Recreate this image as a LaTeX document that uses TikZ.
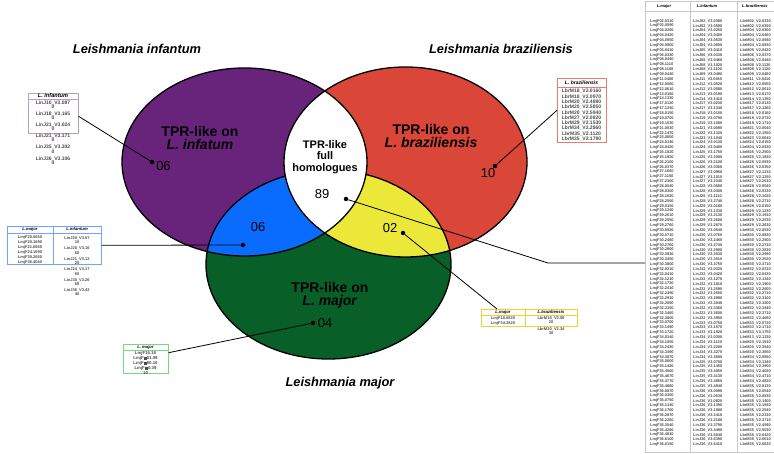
\documentclass[tikz,border=0pt]{standalone}
\usepackage{fontspec}
\setmainfont{Liberation Sans}
\usetikzlibrary{positioning}

\definecolor{infcol}{RGB}{104,36,122}
\definecolor{bracol}{RGB}{218,70,56}
\definecolor{majcol}{RGB}{8,96,40}
\definecolor{infmaj}{RGB}{10,108,255}
\definecolor{bramaj}{RGB}{236,232,58}
\definecolor{tabgray}{RGB}{200,200,200}

% Venn ellipses (pixel-like units, y downwards)
\newcommand{\infell}{(244.5,162) ellipse [x radius=122.5pt, y radius=94pt]}
\newcommand{\braell}{(405.5,162) ellipse [x radius=121.5pt, y radius=95pt]}
\newcommand{\majell}{(328.5,264.5) ellipse [x radius=122.5pt, y radius=94.5pt]}

\begin{document}
\begin{tikzpicture}[x=1pt, y=-1pt,
    outline/.style={draw=black, line width=1.3pt},
    species/.style={font=\fontsize{12.8}{14}\selectfont\bfseries\itshape},
    region/.style={align=center, font=\fontsize{14}{13}\selectfont\bfseries},
    count/.style={font=\fontsize{13}{15}\selectfont},
    pin/.style={circle, fill=black, inner sep=0pt, minimum size=4.5pt},
    leader/.style={draw=black, line width=0.8pt},
    box/.style={draw, line width=0.6pt, inner sep=0pt, anchor=north west},
    idhead/.style={inner sep=0pt, font=\fontsize{4.2}{5}\selectfont\bfseries\itshape},
    idlist/.style={align=center, inner sep=0pt, anchor=north, text=black!70,
      font=\fontsize{4}{4.4}\selectfont\bfseries},
    idrow/.style={inner sep=0pt, anchor=west, text=black!70,
      font=\fontsize{3.9}{4}\selectfont\bfseries}
  ]
  \useasboundingbox[fill=white] (0,0) rectangle (774,454);

  % filled sets
  \fill[infcol] \infell;
  \fill[bracol] \braell;
  \fill[majcol] \majell;
  \begin{scope}
    \clip \infell;
    \fill[infmaj] \majell;
  \end{scope}
  \begin{scope}
    \clip \braell;
    \fill[bramaj] \majell;
  \end{scope}
  \path[outline] \majell;
  % white core shared by all
  \begin{scope}
    \clip \infell;
    \fill[white] \braell;
  \end{scope}
  \path[outline] \infell;
  \path[outline] \braell;

  % species titles
  \node[species] (tinf) at (137,49) {Leishmania infantum};
  \node[species] (tbra) at (501,49) {Leishmania braziliensis};
  \node[species] (tmaj) at (340,383) {Leishmania major};

  % region labels
  \node[region] (rinf) at (200,137.5) {TPR-like on\\\textit{L. infatum}};
  \node[region] (rbra) at (431,136) {TPR-like on\\\textit{L. braziliensis}};
  \node[region] (rmaj) at (330,295.5) {TPR-like on\\\textit{L. major}};
  \node[region, font=\fontsize{11}{11.5}\selectfont\bfseries] (rall) at (325,157) {TPR-like\\full\\homologues};

  % counts and their pins
  \node[count] (ninf) at (163.5,166) {06};
  \node[count] (nbra) at (488,173) {10};
  \node[count] (nim) at (258,227) {06};
  \node[count] (nbm) at (390,228) {02};
  \node[count] (nall) at (322,194) {89};
  \node[count] (nmaj) at (325,323) {04};

  \node[pin] (pinf) at (152,162) {};
  \node[pin] (pbra) at (495,166) {};
  \node[pin] (pim) at (243,245) {};
  \node[pin] (pbm) at (403,233) {};
  \node[pin] (pall) at (346,199) {};
  \node[pin] (pmaj) at (313,323) {};

  % L. infantum only
  \node[box, draw=infcol!45, minimum width=50pt, minimum height=40pt] (inftab) at (28,93) {};
  \draw[infcol!45, line width=0.6pt] (28,99) -- (78,99);
  \node[idhead, font=\fontsize{5.6}{6}\selectfont\bfseries\itshape] (hinf) at (53,96) {L. infantum};
  \foreach \e [count=\k] in {10\_V3.087, 18\_V3.165, 21\_V3.024, 21\_V3.171, 35\_V3.302, 36\_V3.106}
    \node[idlist, font=\fontsize{5}{4.3}\selectfont\bfseries] at (53,{100.2+(\k-1)*11.2}) {LinJ\e\\0};

  % L. braziliensis only
  \node[box, draw=bracol!70, minimum width=49pt, minimum height=64pt] (bratab) at (557,78) {};
  \draw[bracol!70, line width=0.6pt] (557,87) -- (606,87);
  \node[idhead, font=\fontsize{5}{6}\selectfont\bfseries\itshape] (hbra) at (581.5,82.5) {L. braziliensis};
  \node[idlist, font=\fontsize{5}{5.3}\selectfont\bfseries] (lbra) at (581.5,89) {LbrM18\_V2.0160\\LbrM18\_V2.0970\\LbrM20\_V2.4880\\LbrM20\_V2.5850\\LbrM20\_V2.5940\\LbrM27\_V2.0820\\LbrM29\_V2.1530\\LbrM34\_V2.2860\\LbrM35\_V2.1120\\LbrM35\_V2.1790};

  % L. major and L. infantum
  \node[box, draw=infmaj!60, minimum width=94pt, minimum height=38pt] (imtab) at (7,226) {};
  \draw[infmaj!60, line width=0.6pt] (53,226) -- (53,264) (7,233) -- (101,233);
  \node[idhead] (him1) at (30,229.5) {L.major};
  \node[idhead] (him2) at (77,229.5) {L.infantum};
  \node[idlist, font=\fontsize{4}{5}\selectfont\bfseries] (lim1) at (30,235.5) {LmjF20.0650\\LmjF20.1690\\LmjF21.0660\\LmjF24.1690\\LmjF30.2660\\LmjF36.4040};
  \foreach \e/\f [count=\k] in {20\_V3.07/10, 20\_V3.16/60, 21\_V3.12/20, 24\_V3.17/60, 30\_V3.26/60, 36\_V3.42/40}
    \node[idlist] at (77,{236.5+(\k-1)*10.4}) {LinJ\e\\\f};

  % L. major and L. braziliensis
  \node[box, draw=bramaj!80!orange, minimum width=96pt, minimum height=17pt] (bmtab) at (481,309) {};
  \draw[bramaj!80!orange, line width=0.6pt] (525,309) -- (525,326) (481,315) -- (577,315);
  \node[idhead] (hbm1) at (503,312.2) {L.major};
  \node[idhead] (hbm2) at (551,312.2) {L.braziliensis};
  \node[idlist, font=\fontsize{4}{5}\selectfont\bfseries] (lbm1) at (503,316.5) {LmjF18.0820\\LmjF34.3820};
  \foreach \e/\f [count=\k] in {18\_V2.09/20, 20\_V2.34/30}
    \node[idlist] at (551,{316.5+(\k-1)*11}) {LbrM\e\\\f};

  % L. major only
  \node[box, draw=majcol!40!green!55, minimum width=45pt, minimum height=29pt] (majtab) at (123,344) {};
  \draw[majcol!40!green!55, line width=0.6pt] (123,350) -- (168,350);
  \node[idhead] (hmaj) at (145.5,347) {L. major};
  \node[idlist, font=\fontsize{4.3}{5}\selectfont\bfseries] (lmaj) at (145.5,351.5) {LmjF16.18\\LmjF\rule{3.2pt}{2.8pt}01.09\\LmjF\rule{3.2pt}{2.8pt}60.10\\LmjF\rule{3.2pt}{2.8pt}0.39\\10};

  % full homologues
  \node[box, draw=tabgray, minimum width=140pt, minimum height=451pt] (alltab) at (645,1) {};
  \draw[tabgray, line width=0.6pt] (690,1) -- (690,452) (737,1) -- (737,452) (645,11) -- (785,11);
  \node[idhead, font=\fontsize{4}{5}\selectfont\bfseries\itshape] (hall1) at (664,6) {L.major};
  \node[idhead, font=\fontsize{4}{5}\selectfont\bfseries\itshape] (hall2) at (707,6) {L.infantum};
  \node[idhead, font=\fontsize{4}{5}\selectfont\bfseries\itshape, anchor=west] (hall3) at (742,6) {L.braziliensis};
  \foreach \a/\b/\c [count=\i] in {
    02.0310/02\_V3.0380/02\_V2.0330, 02.0590/02\_V3.0590/02\_V2.0350, 04.0260/04\_V3.0250/04\_V2.0300,
    04.0420/04\_V3.0400/04\_V2.0460, 04.0550/04\_V3.0530/04\_V2.0580, 04.0800/04\_V3.0800/04\_V2.0830,
    05.0410/05\_V3.0410/05\_V2.0420, 06.0330/06\_V3.0330/06\_V2.0370, 08.0440/08\_V3.0460/08\_V2.0440,
    08.1110/08\_V3.1020/08\_V2.1130, 08.1100/08\_V3.1100/08\_V2.1120, 09.0440/09\_V3.0490/09\_V2.0460,
    11.0400/11\_V3.0460/11\_V2.0410, 12.0560/12\_V3.0520/12\_V2.0550, 12.0610/12\_V3.0580/12\_V2.0610,
    13.0160/13\_V3.0190/13\_V2.0170, 14.1330/14\_V3.1410/14\_V2.1350, 17.0120/17\_V3.0230/17\_V2.0130,
    17.1240/17\_V3.1340/17\_V2.1260, 18.0150/18\_V3.0150/18\_V2.0160, 19.0700/19\_V3.0790/19\_V2.0730,
    19.1530/19\_V3.1580/19\_V2.1710, 21.0030/21\_V3.0090/21\_V2.0040, 22.1470/22\_V3.1320/22\_V2.1550,
    23.0600/23\_V3.1040/23\_V2.0640, 24.0140/24\_V3.0130/24\_V2.0150, 24.0420/24\_V3.0400/24\_V2.0430,
    25.1820/25\_V3.1750/25\_V2.2500, 25.1920/25\_V3.2080/25\_V2.1820, 26.2100/26\_V3.2100/26\_V2.0930,
    26.0370/26\_V3.0360/26\_V2.0350, 27.1660/27\_V3.0950/27\_V2.1210, 27.1150/27\_V3.1010/27\_V2.1250,
    27.2300/27\_V3.2340/27\_V2.2010, 28.0540/28\_V3.0580/28\_V2.0540, 28.0300/28\_V3.0300/28\_V2.0330,
    28.1620/28\_V3.1110/28\_V2.1020, 28.2550/28\_V3.2740/28\_V2.2710, 29.0150/29\_V3.0180/29\_V2.0150,
    29.1240/29\_V3.1330/29\_V2.1230, 29.2610/29\_V3.2130/29\_V2.1910, 29.2550/29\_V3.2600/29\_V2.2530,
    29.2760/29\_V3.2870/29\_V2.2630, 30.0520/30\_V3.0540/30\_V2.0530, 30.0710/30\_V3.0760/30\_V2.0820,
    30.2460/30\_V3.2450/30\_V2.2500, 30.2760/30\_V3.2740/30\_V2.2710, 30.2800/30\_V3.2900/30\_V2.2830,
    30.3810/30\_V3.3030/30\_V2.2990, 30.3450/30\_V3.3510/30\_V2.3520, 30.3800/30\_V3.3750/30\_V2.3710,
    32.0210/32\_V3.0320/32\_V2.0310, 32.0410/32\_V3.0420/32\_V2.0430, 32.1210/32\_V3.1270/32\_V2.1340,
    32.1730/32\_V3.1810/32\_V2.1900, 32.2410/32\_V3.2590/32\_V2.2600, 32.2490/32\_V3.2650/32\_V2.2710,
    32.2910/32\_V3.2990/32\_V2.3100, 32.2890/32\_V3.3040/32\_V2.3200, 32.3150/32\_V3.3360/32\_V2.3440,
    32.3460/32\_V3.3600/32\_V2.3710, 32.3800/32\_V3.3950/32\_V2.4060, 33.0700/33\_V3.0750/33\_V2.0720,
    33.1490/33\_V3.1570/33\_V2.1710, 33.1720/33\_V3.1820/33\_V2.1750, 34.0340/34\_V3.0300/13\_V2.1330,
    34.1050/34\_V3.1120/20\_V2.1910, 34.2430/34\_V3.2200/20\_V2.3540, 34.3490/34\_V3.3270/20\_V2.3650,
    34.3870/34\_V3.3680/34\_V2.0560, 35.0600/35\_V3.0700/34\_V2.1340, 35.1420/35\_V3.1450/34\_V2.3900,
    35.4500/35\_V3.4050/34\_V2.4020, 35.4670/35\_V3.4130/34\_V2.4710, 35.4770/35\_V3.4850/34\_V2.4820,
    35.4860/35\_V3.4940/35\_V2.0130, 36.0870/36\_V3.0090/35\_V2.0540, 36.0300/36\_V3.0530/35\_V2.0830,
    36.0750/36\_V3.0820/35\_V2.1400, 36.1340/36\_V3.1390/35\_V2.1930, 36.1760/36\_V3.1880/35\_V2.2540,
    36.2870/36\_V3.2410/35\_V2.2330, 36.2260/36\_V3.2180/35\_V2.3710, 36.3540/36\_V3.3790/35\_V2.4590,
    36.4260/36\_V3.4490/35\_V2.5030, 36.4810/36\_V3.5040/35\_V2.6420, 36.6100/36\_V3.6390/35\_V2.6610,
    36.6150/36\_V3.6410/35\_V2.6630}
  {
    \node[idrow] at (650,{21+(\i-1)*4.87}) {LmjF\a};
    \node[idrow] at (693,{21+(\i-1)*4.87}) {LinJ\b};
    \node[idrow] at (740,{21+(\i-1)*4.87}) {LbrM\c};
  }

  % leaders from the counts to their lists
  \coordinate (bend) at (548,263);
  \draw[leader] (pinf) -- ([yshift=-3pt]inftab.east);
  \draw[leader] (pbra) -- (bratab.west);
  \draw[leader] (pim) -- (imtab.east);
  \draw[leader] (pbm) -- ([xshift=16pt]bmtab.north west);
  \draw[leader] (pmaj) -- (majtab.15);
  \draw[leader] (pall) -- (bend) -- (bend -| alltab.west);
\end{tikzpicture}
\end{document}
